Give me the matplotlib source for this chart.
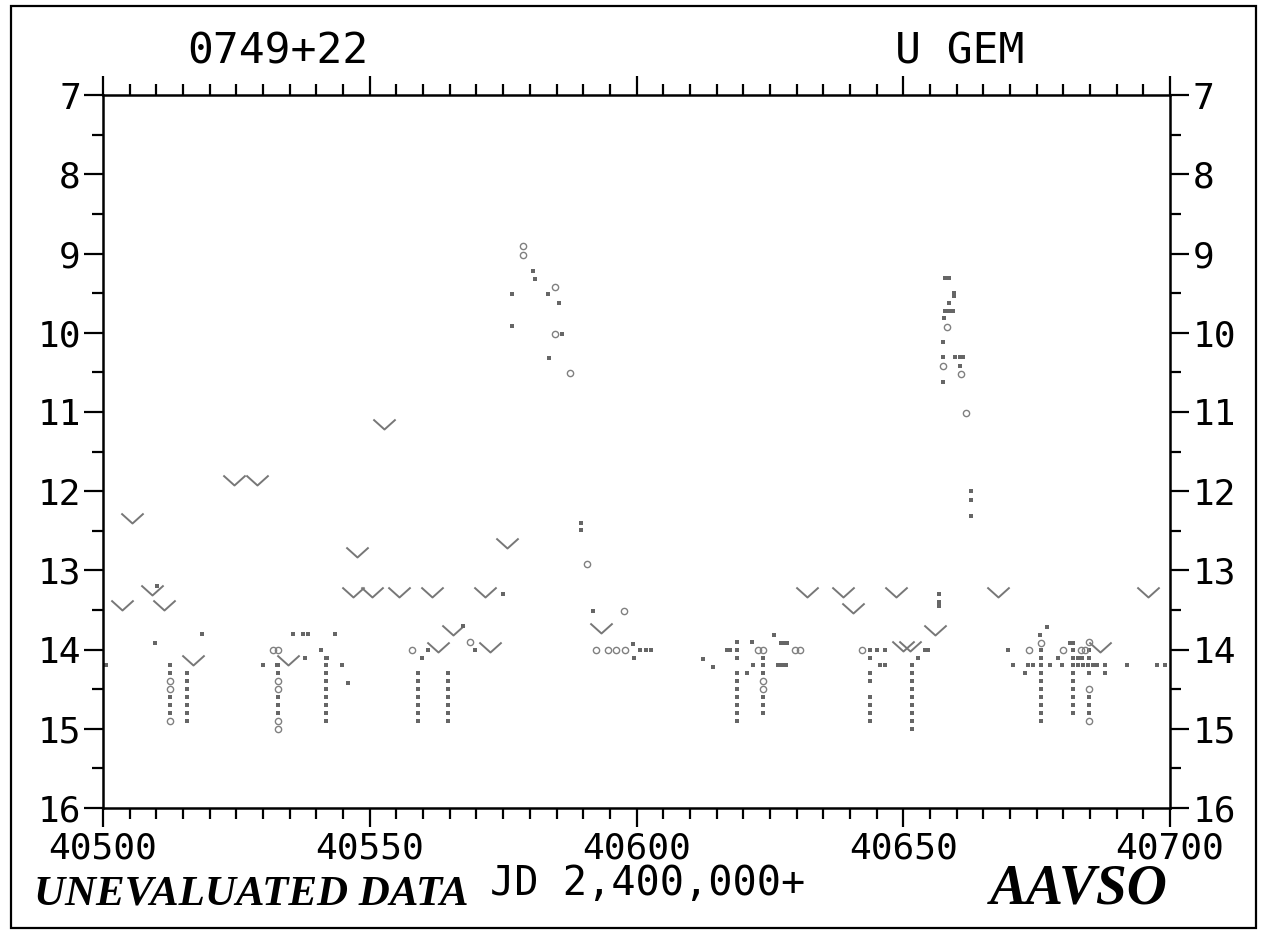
import numpy as np
import matplotlib
matplotlib.use('Agg')
import matplotlib.pyplot as plt
from matplotlib.path import Path
from matplotlib.patches import Rectangle

# fainter-than estimates (V marks)
v_day = [40503.6, 40505.4, 40509.2, 40511.4, 40516.9, 40524.6, 40528.9, 40534.7,
         40546.9, 40547.6, 40550.4, 40552.7, 40555.5, 40561.7, 40562.8, 40565.6,
         40571.6, 40572.5, 40575.7, 40593.3, 40632.0, 40638.7, 40640.6, 40648.6,
         40650.0, 40651.3, 40656.0, 40667.8, 40686.9, 40695.9]
v_mag = [13.44, 12.34, 13.25, 13.44, 14.13, 11.86, 11.86, 14.13,
         13.27, 12.77, 13.27, 11.15, 13.27, 13.27, 13.97, 13.75,
         13.27, 13.97, 12.66, 13.73, 13.27, 13.27, 13.48, 13.27,
         13.95, 13.95, 13.75, 13.27, 13.97, 13.27]

# visual estimates (small squares)
dot_day = [40500.6, 40510.2, 40509.7, 40518.6,
           40512.6, 40512.6, 40512.6, 40512.6, 40512.6,
           40515.7, 40515.7, 40515.7, 40515.7, 40515.7, 40515.7, 40515.7,
           40530.0, 40532.6, 40535.6, 40537.5, 40538.4, 40543.5, 40540.9, 40537.9,
           40542.0, 40544.8, 40545.9,
           40532.8, 40532.8, 40532.8, 40532.8, 40532.8,
           40541.8, 40541.8, 40541.8, 40541.8, 40541.8, 40541.8, 40541.8, 40541.8, 40541.8,
           40561.0, 40559.8, 40567.5, 40569.7,
           40559.0, 40559.0, 40559.0, 40559.0, 40559.0, 40559.0, 40559.0,
           40564.7, 40564.7, 40564.7, 40564.7, 40564.7, 40564.7, 40564.7,
           40575.0,
           40580.6, 40580.9, 40576.7, 40583.4, 40585.5, 40576.7, 40586.0, 40583.6,
           40589.6, 40589.6, 40591.8, 40599.3, 40599.6, 40600.6, 40601.8, 40602.8,
           40612.5, 40614.4, 40617.0, 40617.5, 40618.8, 40618.8, 40618.8,
           40618.8, 40618.8, 40618.8, 40618.8, 40618.8, 40618.8, 40618.8,
           40620.7, 40621.6, 40621.8, 40625.8, 40627.0, 40627.6, 40628.2,
           40626.5, 40627.3, 40628.1,
           40623.7, 40623.7, 40623.7, 40623.7, 40623.7, 40623.7,
           40643.8, 40645.0, 40646.6, 40643.8, 40645.6, 40646.6,
           40643.8, 40643.8, 40643.8, 40643.8, 40643.8, 40643.8,
           40652.8, 40654.0, 40654.6,
           40651.6, 40651.6, 40651.6, 40651.6, 40651.6, 40651.6, 40651.6, 40651.6, 40651.6,
           40656.7, 40656.7, 40656.7,
           40657.8, 40658.5, 40659.5, 40659.5, 40658.6, 40657.8, 40658.5, 40659.3,
           40657.6, 40657.5, 40657.5, 40659.7, 40660.6, 40661.2, 40660.6, 40657.5,
           40662.7, 40662.7, 40662.7,
           40669.6, 40670.6, 40672.8, 40673.4, 40674.3, 40675.7, 40677.0, 40677.5,
           40679.0, 40679.7, 40681.3, 40681.8, 40682.8, 40683.5, 40682.8, 40683.7,
           40684.6, 40685.5, 40686.4, 40687.8, 40687.8, 40692.0, 40697.6, 40699.0,
           40675.8, 40675.8, 40675.8, 40675.8, 40675.8, 40675.8, 40675.8, 40675.8, 40675.8, 40675.8,
           40681.8, 40681.8, 40681.8, 40681.8, 40681.8, 40681.8, 40681.8, 40681.8, 40681.8,
           40684.8, 40684.8, 40684.8, 40684.8, 40684.8, 40684.8]
dot_mag = [14.2, 13.2, 13.92, 13.8,
           14.2, 14.3, 14.6, 14.7, 14.8,
           14.3, 14.4, 14.5, 14.6, 14.7, 14.8, 14.9,
           14.2, 14.2, 13.8, 13.8, 13.8, 13.8, 14.0, 14.1,
           14.1, 14.2, 14.42,
           14.2, 14.3, 14.6, 14.7, 14.8,
           14.1, 14.2, 14.3, 14.4, 14.5, 14.6, 14.7, 14.8, 14.9,
           14.0, 14.1, 13.7, 14.0,
           14.3, 14.4, 14.5, 14.6, 14.7, 14.8, 14.9,
           14.3, 14.4, 14.5, 14.6, 14.7, 14.8, 14.9,
           13.3,
           9.22, 9.32, 9.51, 9.51, 9.62, 9.92, 10.02, 10.32,
           12.4, 12.49, 13.51, 13.93, 14.1, 14.0, 14.0, 14.0,
           14.12, 14.22, 14.0, 14.0, 13.9, 14.0, 14.1,
           14.3, 14.4, 14.5, 14.6, 14.7, 14.8, 14.9,
           14.3, 13.9, 14.2, 13.82, 13.92, 13.92, 13.92,
           14.2, 14.2, 14.2,
           14.1, 14.2, 14.3, 14.6, 14.7, 14.8,
           14.0, 14.0, 14.0, 14.1, 14.2, 14.2,
           14.3, 14.4, 14.6, 14.7, 14.8, 14.9,
           14.1, 14.0, 14.0,
           14.2, 14.3, 14.4, 14.5, 14.6, 14.7, 14.8, 14.9, 15.0,
           13.3, 13.4, 13.45,
           9.31, 9.31, 9.5, 9.54, 9.62, 9.72, 9.72, 9.72,
           9.81, 10.12, 10.31, 10.31, 10.31, 10.31, 10.42, 10.62,
           12.0, 12.11, 12.31,
           14.0, 14.2, 14.3, 14.2, 14.2, 13.82, 13.71, 14.2,
           14.1, 14.2, 13.92, 13.92, 14.1, 14.1, 14.2, 14.2,
           14.2, 14.2, 14.2, 14.2, 14.3, 14.2, 14.2, 14.2,
           14.0, 14.1, 14.2, 14.3, 14.4, 14.5, 14.6, 14.7, 14.8, 14.9,
           14.0, 14.1, 14.2, 14.3, 14.4, 14.5, 14.6, 14.7, 14.8,
           14.0, 14.1, 14.3, 14.6, 14.7, 14.8]

# visual estimates (open circles)
circ_day = [40512.6, 40512.6, 40512.6,
            40531.9, 40532.8, 40532.8, 40532.8, 40532.8, 40532.8,
            40557.9, 40568.8,
            40578.7, 40578.7, 40584.7, 40584.7, 40587.5, 40590.7, 40597.7,
            40592.4, 40594.6, 40596.1, 40597.8,
            40622.8, 40629.7, 40630.6, 40623.7, 40623.7, 40623.7,
            40642.3,
            40658.2, 40657.5, 40660.8, 40661.8,
            40673.6, 40675.9, 40679.9, 40683.3, 40684.0,
            40684.8, 40684.8, 40684.8]
circ_mag = [14.4, 14.5, 14.9,
            14.0, 14.0, 14.4, 14.5, 14.9, 15.0,
            14.0, 13.9,
            8.9, 9.02, 9.42, 10.02, 10.51, 12.92, 13.51,
            14.0, 14.0, 14.0, 14.0,
            14.0, 14.0, 14.0, 14.0, 14.4, 14.5,
            14.0,
            9.93, 10.42, 10.52, 11.01,
            14.0, 13.92, 14.0, 14.0, 14.0,
            13.9, 14.5, 14.9]

plt.rcParams['font.family'] = ['DejaVu Sans Mono']

fig = plt.figure(figsize=(12.66, 9.32), dpi=100)
ax = fig.add_axes([0.0814, 0.133, 0.8428, 0.765])

vee = Path([(-1, 0.45), (0, -0.45), (1, 0.45)],
           [Path.MOVETO, Path.LINETO, Path.LINETO])
ax.plot(v_day, v_mag, linestyle='none', marker=vee, markersize=16,
        markerfacecolor='none', markeredgecolor='#777777', markeredgewidth=1.4)
ax.plot(dot_day, dot_mag, linestyle='none', marker='s', markersize=2.6,
        color='#666666', markeredgewidth=0)
ax.plot(circ_day, circ_mag, linestyle='none', marker='o', markersize=4.5,
        markerfacecolor='none', markeredgecolor='#808080', markeredgewidth=1)

ax.set_xlim(40500, 40700)
ax.set_ylim(16, 7)
ax.set_xticks(np.arange(40500, 40701, 50))
ax.set_xticks(np.arange(40500, 40701, 5), minor=True)
ax.set_yticks(np.arange(7, 17, 1))
ax.set_yticks(np.arange(7, 16.1, 0.5), minor=True)

ax.tick_params(which='both', direction='out', width=1.6, colors='black',
               top=True, right=True, labelright=True, labelsize=26, pad=2)
ax.tick_params(axis='x', which='major', pad=3)
ax.tick_params(which='major', length=14)
ax.tick_params(which='minor', length=8)
for s in ax.spines.values():
    s.set_linewidth(1.8)

fig.text(0.148, 0.945, '0749+22', fontsize=31, ha='left', va='center')
fig.text(0.707, 0.945, 'U GEM', fontsize=31, ha='left', va='center')
fig.text(0.387, 0.052, 'JD 2,400,000+', fontsize=29, ha='left', va='center')
fig.text(0.027, 0.040, 'UNEVALUATED DATA', fontsize=31, ha='left', va='center',
         family='Liberation Serif', weight='bold', style='italic')
fig.text(0.782, 0.046, 'AAVSO', fontsize=40, ha='left', va='center',
         family='Liberation Serif', weight='bold', style='italic')

fig.patches.append(Rectangle((0.009, 0.004), 0.983, 0.99, transform=fig.transFigure,
                             fill=False, edgecolor='black', linewidth=1.6))

fig.savefig('out.png', dpi=100)
